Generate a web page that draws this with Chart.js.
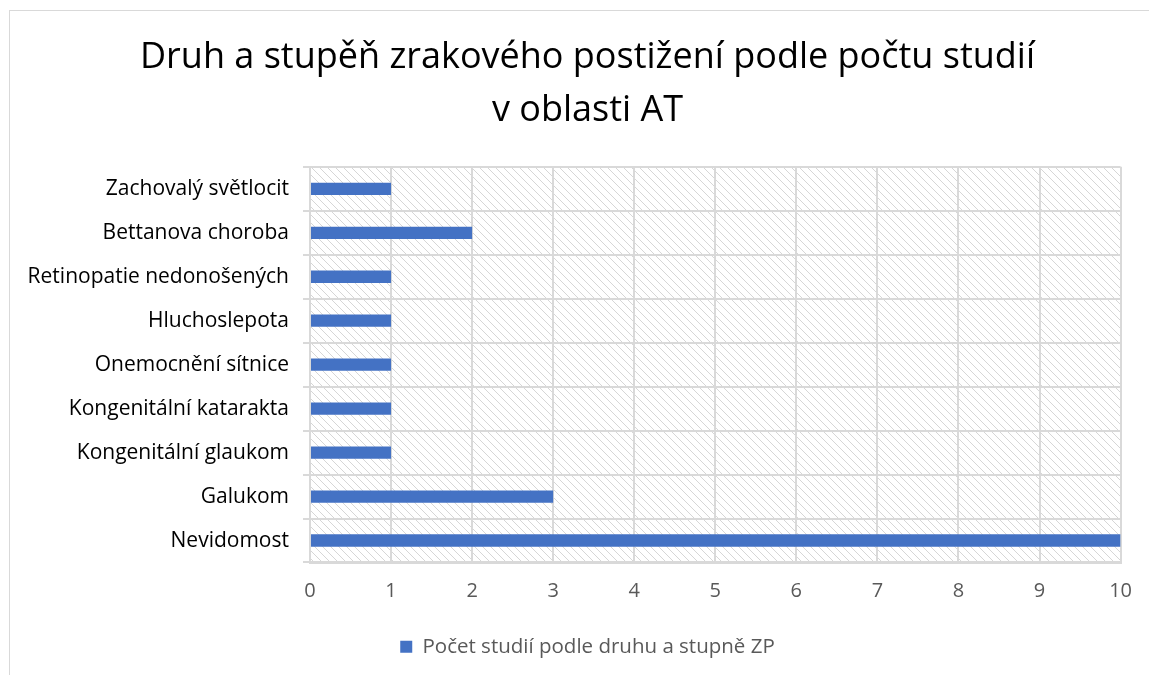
<!DOCTYPE html>
<html>
<head>
<meta charset="utf-8">
<script src="https://cdn.jsdelivr.net/npm/chart.js@4"></script>
<style>
  html, body { margin: 0; padding: 0; background: #fff; overflow: hidden; }
  #frame { position: absolute; left: 9px; top: 10px; width: 1300px; height: 800px;
           border: 1px solid #d9d9d9; box-sizing: border-box; }
  #wrap { position: absolute; left: 0; top: 0; width: 1149px; height: 675px; }
</style>
</head>
<body>
<div id="frame"></div>
<div id="wrap"><canvas id="chart" width="1149" height="675"></canvas></div>
<script>
/* ── Data ──────────────────────────────────────────────────── */
const categories = [
  'Zachovalý světlocit',
  'Bettanova choroba',
  'Retinopatie nedonošených',
  'Hluchoslepota',
  'Onemocnění sítnice',
  'Kongenitální katarakta',
  'Kongenitální glaukom',
  'Galukom',
  'Nevidomost'
];
const studyCounts = [1, 2, 1, 1, 1, 1, 1, 3, 10];
const seriesName  = 'Počet studií podle druhu a stupně ZP';
const titleLines  = ['Druh a stupěň zrakového postižení podle počtu studií', 'v oblasti AT'];

/* ── Hatched plot background ──────────────────────────────── */
function hatchPattern() {
  const c = document.createElement('canvas');
  c.width = 8; c.height = 8;
  const g = c.getContext('2d');
  g.strokeStyle = '#d6d6d6';
  g.lineWidth = 1;
  g.beginPath();
  g.moveTo(-1, -1); g.lineTo(9, 9);
  g.moveTo(-1, 7);  g.lineTo(1, 9);
  g.moveTo(7, -1);  g.lineTo(9, 1);
  g.stroke();
  return g.createPattern(c, 'repeat');
}

const hatchBg = {
  id: 'hatchBg',
  afterLayout(chart) {
    // let the long category labels spill into the left padding without clipping
    chart.scales.y.left = 0;
  },
  beforeDraw(chart) {
    const { ctx, chartArea: a } = chart;
    ctx.save();
    ctx.fillStyle = hatchPattern();
    ctx.fillRect(a.left, a.top, a.right - a.left, a.bottom - a.top);
    ctx.restore();
  }
};

const FONT = '"Open Sans", sans-serif';

new Chart(document.getElementById('chart'), {
  type: 'bar',
  data: {
    labels: categories,
    datasets: [{
      label: seriesName,
      data: studyCounts,
      backgroundColor: '#4472c4',
      borderWidth: 0,
      categoryPercentage: 1,
      barPercentage: 0.28
    }]
  },
  options: {
    indexAxis: 'y',
    responsive: false,
    animation: false,
    layout: { padding: { left: 54, right: 28, top: 31, bottom: 8 } },
    plugins: {
      title: {
        display: true,
        text: titleLines,
        color: '#000',
        font: { family: FONT, size: 36, weight: 'normal', lineHeight: 1.47 },
        padding: { top: 0, bottom: 30 }
      },
      legend: {
        position: 'bottom',
        labels: {
          color: '#595959',
          font: { family: FONT, size: 20.5 },
          boxWidth: 12, boxHeight: 12, padding: 16
        }
      },
      tooltip: { enabled: false }
    },
    scales: {
      x: {
        min: 0, max: 10,
        ticks: { stepSize: 1, color: '#595959', font: { family: FONT, size: 20 }, padding: 17 },
        grid: { color: '#d9d9d9', lineWidth: 2, drawTicks: false },
        border: { color: '#d9d9d9', width: 2 }
      },
      y: {
        afterFit(scale) { scale.width = 256; },
        ticks: { color: '#000', font: { family: FONT, size: 21 }, padding: 14 },
        grid: { color: '#d9d9d9', lineWidth: 2, offset: true, tickLength: 7 },
        border: { color: '#d9d9d9', width: 2 }
      }
    }
  },
  plugins: [hatchBg]
});
</script>
</body>
</html>
